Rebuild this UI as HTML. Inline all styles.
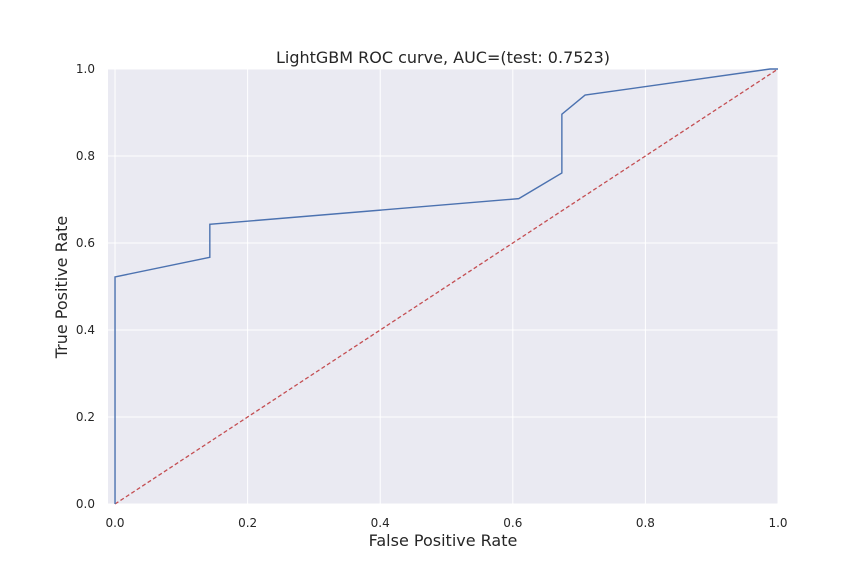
<!DOCTYPE html>
<html><head><meta charset="utf-8"><style>
body{margin:0;background:#fff;}
svg{display:block;font-family:"DejaVu Sans","Liberation Sans",sans-serif;}
</style></head><body>
<svg id="chart" width="864" height="576">
<rect x="108" y="69" width="670" height="435" fill="#eaeaf2"/>
<g id="grid"></g>
<g id="ticks"></g>
<text x="443" y="63" text-anchor="middle" font-size="16" fill="#262626">LightGBM ROC curve, AUC=(test: 0.7523)</text>
<text x="443" y="546" text-anchor="middle" font-size="16" fill="#262626">False Positive Rate</text>
<text x="0" y="0" transform="translate(67,287) rotate(-90)" text-anchor="middle" font-size="16" fill="#262626">True Positive Rate</text>
<g id="series"></g>
</svg>
<script>
const fprValues=[0,0,0.143,0.143,0.609,0.674,0.674,0.709,0.988,1];
const tprValues=[0,0.522,0.567,0.643,0.702,0.761,0.896,0.940,1,1];
const xTicks=[0,0.2,0.4,0.6,0.8,1.0];
const yTicks=[0,0.2,0.4,0.6,0.8,1.0];
const diagX=[0,1];
const diagY=[0,1];
const X0=108,X1=778,Y0=504,Y1=69,XMIN=-0.0106,XMAX=1,YMIN=0,YMAX=1;
const sx=v=>X0+(v-XMIN)/(XMAX-XMIN)*(X1-X0);
const sy=v=>Y0-(v-YMIN)/(YMAX-YMIN)*(Y0-Y1);
const NS="http://www.w3.org/2000/svg";
const grid=document.getElementById('grid'),ticks=document.getElementById('ticks'),ser=document.getElementById('series');
function mk(tag,attrs,parent){const e=document.createElementNS(NS,tag);for(const k in attrs)e.setAttribute(k,attrs[k]);parent.appendChild(e);return e;}
xTicks.forEach(t=>{
  const l=mk('line',{x1:sx(t),x2:sx(t),y1:Y1,y2:Y0,stroke:'#fff','stroke-width':1},grid);
  
  
  const tx=mk('text',{x:sx(t),y:Y0+23,'text-anchor':'middle','font-size':12,fill:'#262626'},ticks);
  tx.textContent=t.toFixed(1);
  
  
});
yTicks.forEach(t=>{
  const l=mk('line',{x1:X0,x2:X1,y1:sy(t),y2:sy(t),stroke:'#fff','stroke-width':1},grid);
  
  
  const tx=mk('text',{x:X0-13,y:sy(t)+4,'text-anchor':'end','font-size':12,fill:'#262626'},ticks);
  tx.textContent=t.toFixed(1);
  
  
});
const d=mk('polyline',{points:diagX.map((v,i)=>sx(v)+','+sy(diagY[i])).join(' '),fill:'none',stroke:'#c44e52','stroke-width':1.3,'stroke-dasharray':'4,2.5'},ser);


const r=mk('polyline',{points:fprValues.map((v,i)=>sx(v)+','+sy(tprValues[i])).join(' '),fill:'none',stroke:'#4c72b0','stroke-width':1.4},ser);


</script>
</body></html>
